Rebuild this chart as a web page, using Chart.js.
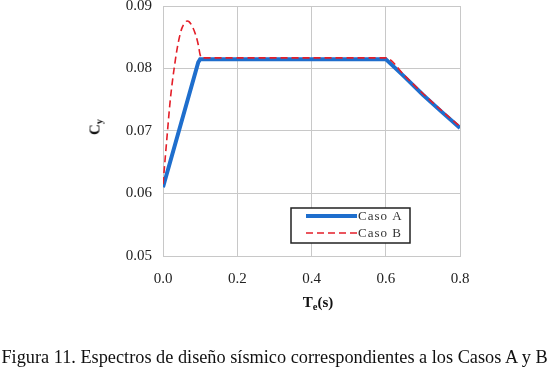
<!DOCTYPE html>
<html>
<head>
<meta charset="utf-8">
<script src="https://cdn.jsdelivr.net/npm/chart.js@4/dist/chart.umd.min.js"></script>
<style>
  html, body { margin: 0; padding: 0; background: #fff; }
  #wrap { position: relative; width: 549px; height: 367px; overflow: hidden; }
  #chart { position: absolute; left: 0; top: 0; }
  .lbl { position: absolute; font-family: "Liberation Serif", "Times New Roman", serif; color: #111; white-space: nowrap; }
  #ytitle { left: 95px; top: 127px; font-weight: bold; font-size: 15px; transform: translate(-50%, -50%) rotate(-90deg); }
  #xtitle { left: 318px; top: 302px; font-weight: bold; font-size: 15px; transform: translate(-50%, -50%); }
  #caption { left: 0; width: 549px; top: 347px; font-size: 18.3px; text-align: center; }
  sub { font-size: 70%; vertical-align: -3px; line-height: 0; }
</style>
</head>
<body>
<div id="wrap">
  <canvas id="chart" width="549" height="367"></canvas>
  <div class="lbl" id="ytitle">C<sub>y</sub></div>
  <div class="lbl" id="xtitle">T<sub>e</sub>(s)</div>
  <div class="lbl" id="caption">Figura 11. Espectros de diseño sísmico correspondientes a los Casos A y B</div>
</div>
<script>
// Caso A
var periodA = [0, 0.095, 0.1, 0.6, 0.65, 0.7, 0.75, 0.8];
var cyA = [0.0610, 0.0810, 0.0815, 0.0815, 0.0787, 0.0758, 0.0731, 0.0705];

// Caso B
var periodB = [0, 0.005, 0.01, 0.02, 0.03, 0.04, 0.05, 0.06, 0.065, 0.07, 0.08, 0.09, 0.095, 0.1, 0.105, 0.6, 0.65, 0.7, 0.75, 0.8];
var cyB = [0.0615, 0.0650, 0.0685, 0.0752, 0.0800, 0.0838, 0.0863, 0.0874, 0.0876, 0.0875, 0.0866, 0.0850, 0.0838, 0.0822, 0.0817, 0.0817, 0.0789, 0.0760, 0.0733, 0.0707];

var seriesNames = ["Caso A", "Caso B"];

function pts(xs, ys) {
  return xs.map(function (x, i) { return { x: x, y: ys[i] }; });
}

var serif = "'Liberation Serif', 'Times New Roman', serif";

// legend box drawn inside the plot
var boxLegend = {
  id: "boxLegend",
  afterDraw: function (chart) {
    var c = chart.ctx;
    var x0 = 291, y0 = 208, w = 119, h = 35;
    c.save();
    c.fillStyle = "#fff";
    c.fillRect(x0, y0, w, h);
    c.strokeStyle = "#222";
    c.lineWidth = 1.5;
    c.strokeRect(x0, y0, w, h);
    var rows = [216, 233];
    chart.data.datasets.forEach(function (ds, i) {
      c.beginPath();
      c.strokeStyle = ds.borderColor;
      c.lineWidth = ds.borderWidth;
      c.setLineDash(ds.borderDash || []);
      c.moveTo(306, rows[i]);
      c.lineTo(357, rows[i]);
      c.stroke();
      c.setLineDash([]);
      c.fillStyle = "#333";
      c.font = "13px " + serif;
      c.letterSpacing = "1px";
      c.textBaseline = "middle";
      c.fillText(ds.label, 358, rows[i] + 1);
    });
    c.restore();
  }
};

new Chart(document.getElementById("chart").getContext("2d"), {
  type: "line",
  data: {
    datasets: [
      {
        label: seriesNames[0],
        data: pts(periodA, cyA),
        borderColor: "rgb(30, 110, 205)",
        borderWidth: 4,
        pointRadius: 0,
        tension: 0,
        order: 1,
      },
      {
        label: seriesNames[1],
        data: pts(periodB, cyB),
        borderColor: "rgb(228, 30, 40)",
        borderWidth: 1.6,
        borderDash: [7, 4],
        pointRadius: 0,
        cubicInterpolationMode: "monotone",
        order: 0,
      },
    ],
  },
  options: {
    responsive: false,
    animation: false,
    layout: { padding: { top: 6, right: 89, left: 0, bottom: 0 } },
    plugins: { legend: { display: false }, tooltip: { enabled: false } },
    scales: {
      x: {
        type: "linear",
        min: 0,
        max: 0.8,
        ticks: {
          stepSize: 0.2,
          padding: 14,
          color: "#222",
          font: { family: serif, size: 15 },
          callback: function (v) { return v.toFixed(1); },
        },
        grid: { color: "#c8c8c8", drawTicks: false },
        border: { color: "#c8c8c8" },
        afterFit: function (s) { s.height = 111; s.paddingLeft = 0; s.paddingRight = 0; },
      },
      y: {
        min: 0.05,
        max: 0.09,
        ticks: {
          stepSize: 0.01,
          padding: 11,
          color: "#222",
          font: { family: serif, size: 15 },
          callback: function (v) { return v.toFixed(2); },
        },
        grid: { color: "#c8c8c8", drawTicks: false },
        border: { color: "#c8c8c8" },
        afterFit: function (s) { s.width = 163; s.paddingTop = 0; s.paddingBottom = 0; },
      },
    },
  },
  plugins: [boxLegend],
});
</script>
</body>
</html>
